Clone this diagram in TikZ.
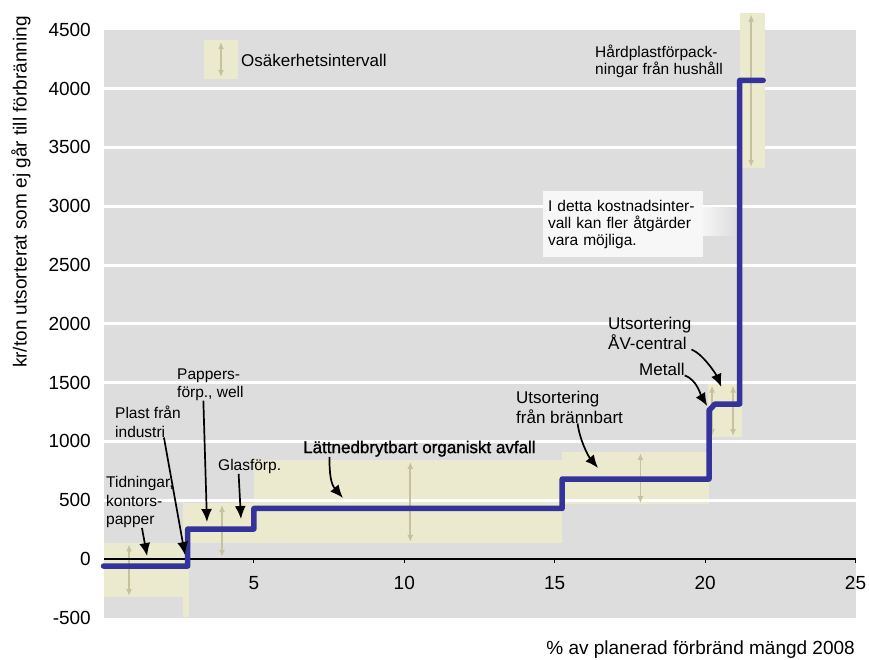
\documentclass[tikz,border=0pt]{standalone}
\usepackage{fontspec}
\setmainfont{Liberation Sans}
\newfontfamily\heavyfont[FakeBold=1.2]{Liberation Sans}
\usetikzlibrary{arrows.meta}

\definecolor{greybg}{RGB}{221,221,221}
\definecolor{band}{RGB}{236,234,206}
\definecolor{bandarrow}{RGB}{196,195,158}
\definecolor{stepblue}{RGB}{51,51,153}
\definecolor{notefill}{RGB}{247,247,247}

\begin{document}
\begin{tikzpicture}[x=1pt,y=-1pt,
  axislbl/.style={font=\fontsize{19}{22}\selectfont, inner sep=0pt},
  biglbl/.style={font=\fontsize{17}{20}\selectfont, align=left, inner sep=0pt},
  smalllbl/.style={font=\fontsize{15.5}{18}\selectfont, align=left, inner sep=0pt},
  uncarrow/.style={bandarrow, line width=1.8pt, {Latex[length=7pt,width=6pt]}-{Latex[length=7pt,width=6pt]}},
  pointer/.style={line width=1.7pt, -{Latex[length=13pt,width=11pt]}},
  gridline/.style={white, line width=3pt},
  stepline/.style={stepblue, line width=5.5pt, line join=round, line cap=round},
  notebox/.style={fill=notefill, minimum width=160pt, minimum height=66pt, text width=150pt,
    inner xsep=5pt, align=left, font=\fontsize{15.5}{17}\selectfont},
  ]

\useasboundingbox (0,0) rectangle (869,659);

\begin{scope}[shift={(103.5,559)}, x=30.08pt, y=0.1176pt]
% plot area
\fill[greybg] (0,-500) rectangle (25,4500);

% uncertainty bands
\fill[band] (0,-323) rectangle (2.82,136);
\fill[band] (2.64,-493) rectangle (2.84,476);
\fill[band] (2.64,136) rectangle (5,476);
\fill[band] (5,136) rectangle (15.25,842);
\fill[band] (15.25,468) rectangle (20.13,910);
\fill[band] (20.1,1037) rectangle (21.23,1488);

\foreach \v in {500,1000,...,4000}
  \draw[gridline] (0,\v) -- (25,\v);

\fill[band] (21.16,3325) rectangle (21.99,4643);

\draw[uncarrow] (0.85,125) -- (0.85,-315);
\draw[uncarrow] (3.94,459) -- (3.94,17);
\draw[uncarrow] (10.2,825) -- (10.2,145);
\draw[uncarrow] (17.85,900) -- (17.85,475);
\draw[uncarrow] (20.23,1475) -- (20.23,1045);
\draw[uncarrow] (20.93,1475) -- (20.93,1045);
\draw[uncarrow] (21.53,4630) -- (21.53,3335);

% axes
\draw[line width=2.5pt] (0,0) -- (25,0);
\foreach \x in {5,10,...,25} {
  \draw[line width=1pt] (\x,0) -- (\x,-34);
  \node[axislbl, yshift=-24pt] (xt\x) at (\x,0) {\x};
}
\foreach \v in {-500,0,...,4500}
  \node[axislbl, anchor=east, xshift=-12.5pt] (yt\v) at (0,\v) {\v};

% cost curve
\draw[stepline] (0,-60) -- (2.8,-60) -- (2.8,255) -- (5,255) -- (5,430)
  -- (15.25,430) -- (15.25,680) -- (20.13,680) -- (20.13,1265) -- (20.33,1318)
  -- (21.15,1318) -- (21.15,4070) -- (21.93,4070);

\coordinate (tipTidn) at (1.45,25);
\coordinate (tipPlast) at (2.71,34);
\coordinate (tipPapp) at (3.44,315);
\coordinate (tipGlas) at (4.57,340);
\coordinate (tipOrg) at (7.96,519);
\coordinate (tipBrann) at (16.44,774);
\coordinate (tipMet) at (20.07,1301);
\coordinate (tipAvc) at (20.54,1463);
\end{scope}

% legend
\fill[band] (204,40) rectangle (238,79);
\draw[uncarrow] (221,42) -- (221,77);
\node[biglbl, anchor=west] (legtext) at (241,60) {Osäkerhetsintervall};

% note
\shade[left color=notefill, right color=greybg] (700,207) rectangle (736,235);
\node[notebox] (note) at (623,224) {I detta kostnadsinter-\\vall kan fler åtgärder\\vara möjliga.};

% titles
\node[axislbl, rotate=90] (ytitle) at (21,192) {kr/ton utsorterat som ej går till förbränning};
\node[axislbl, anchor=east] (xtitle) at (855,649.5) {\% av planerad förbränd mängd 2008};

% labels
\node[smalllbl, anchor=west, font=\fontsize{15.5}{18.5}\selectfont] (tidn) at (106,502) {Tidningar,\\kontors-\\papper};
\node[smalllbl, anchor=west, font=\fontsize{15.5}{19}\selectfont] (plast) at (115,421.5) {Plast från\\industri};
\node[smalllbl, anchor=west] (papp) at (177,384.5) {Pappers-\\förp., well};
\node[smalllbl, anchor=west] (glas) at (218,466.5) {Glasförp.};
\node[biglbl, anchor=west, font=\heavyfont\fontsize{17}{20}\selectfont] (org) at (303,448.7) {Lättnedbrytbart organiskt avfall};
\node[biglbl, anchor=west] (brann) at (516,407) {Utsortering\\från brännbart};
\node[biglbl, anchor=west] (met) at (639,369) {Metall};
\node[biglbl, anchor=west] (avc) at (608,333) {Utsortering\\ÅV-central};
\node[smalllbl, anchor=west, font=\fontsize{15.5}{17}\selectfont] (hard) at (595,61.5) {Hårdplastförpack-\\ningar från hushåll};

\draw[pointer] ([xshift=2pt]tidn.south) -- (tipTidn);
\draw[pointer] ([xshift=16pt]plast.south) -- (tipPlast);
\draw[pointer] ([xshift=-7pt]papp.south) -- (tipPapp);
\draw[pointer] ([xshift=-11pt]glas.south) -- (tipGlas);
\draw[pointer] ([xshift=-90pt]org.south) .. controls +(0,18) and +(-12,-14) .. (tipOrg);
\draw[pointer] ([xshift=8pt]brann.south) .. controls +(2,16) and +(-10,-12) .. (tipBrann);
\draw[pointer] (met.south east) .. controls +(12,4) and +(-6,-10) .. (tipMet);
\draw[pointer] (avc.south east) .. controls +(12,5) and +(-5,-12) .. (tipAvc);

\end{tikzpicture}
\end{document}
